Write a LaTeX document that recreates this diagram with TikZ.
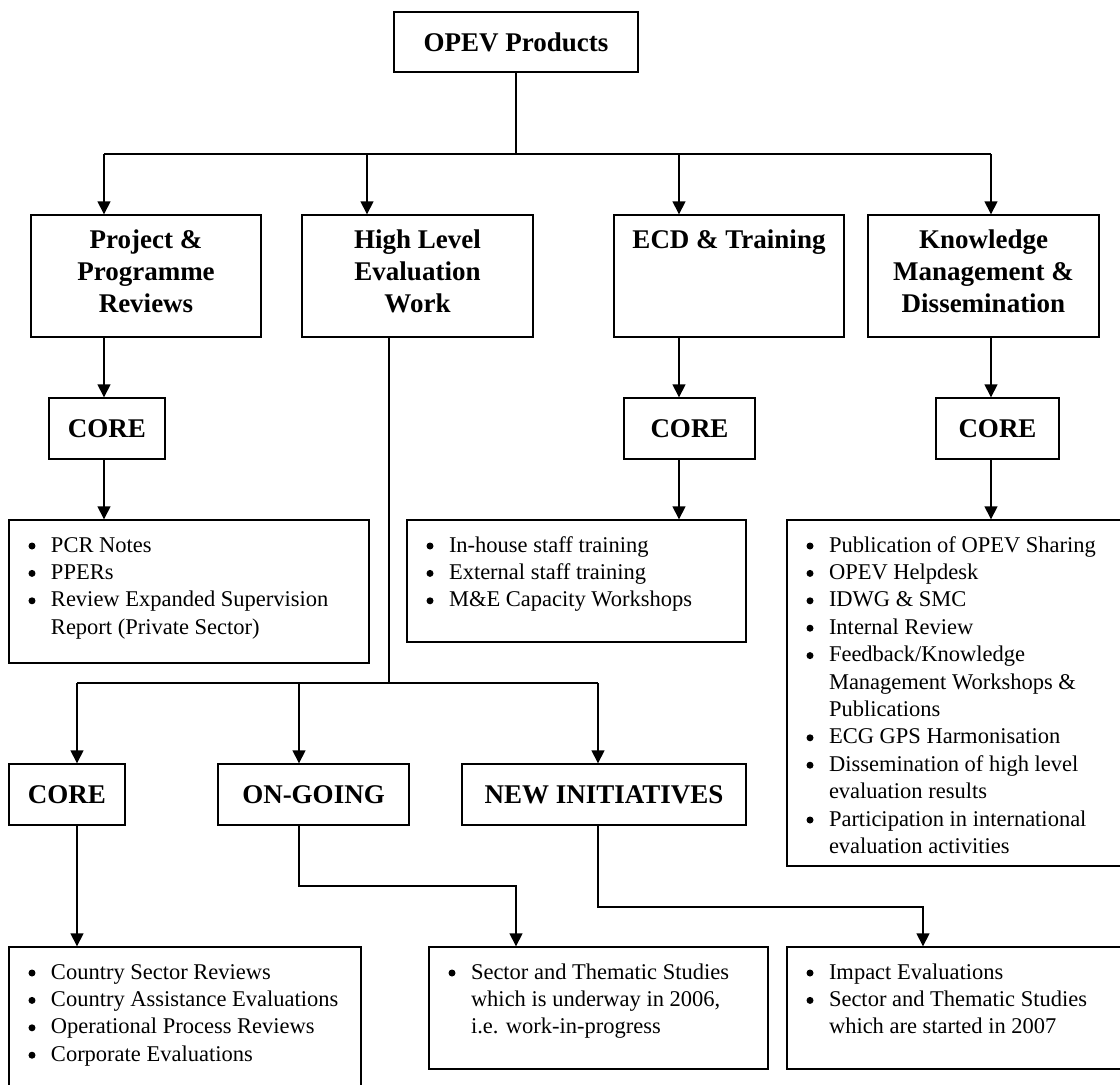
\documentclass[tikz,border=0pt]{standalone}
\usepackage{fontspec}
\setmainfont{Liberation Serif}
\usetikzlibrary{arrows.meta}
\newcommand\ttlfont{\fontsize{27}{32}\selectfont\bfseries}
\newcommand\lstfont{\fontsize{22.5}{27.4}\selectfont}
\newcommand\ttlbox[3]{\parbox[c][#2][t]{#1}{\centering\ttlfont\rule{0pt}{33pt}#3}}
\newcommand\lstbox[3]{\parbox[c][#2][t]{#1}{\lstfont\raggedright\parskip=0pt\parindent=0pt #3}}
\newcommand\bul{\tikz[baseline=0pt]\fill (0pt,6pt) circle (3.5pt);}
\newcommand\itm[1]{\par\noindent\hangindent=42pt\hangafter=1\hspace*{19.5pt}\makebox[22.5pt][l]{\bul}#1\par}
\newcommand\fst{\rule{0pt}{32pt}}
\tikzset{
  box/.style={draw, line width=1.4pt, inner sep=0pt, rectangle},
  sbox/.style={box, font=\ttlfont},
  ln/.style={line width=1.5pt},
  arr/.style={line width=1.5pt, -{Triangle[length=13pt,width=13pt]}}
}
\begin{document}
\begin{tikzpicture}[x=1pt,y=-1pt]
\useasboundingbox (0,0) rectangle (1120,1085);
\path[fill=white] (0,0) rectangle (1120,1085);

% top
\node[sbox, minimum width=244pt, minimum height=60pt] (opev) at (516,42) {OPEV Products};

% level 1
\node[box] (prj) at (146,276) {\ttlbox{230pt}{122pt}{Project \&\\Programme\\Reviews}};
\node[box] (hle) at (417.5,276) {\ttlbox{231pt}{122pt}{High Level\\Evaluation\\Work}};
\node[box] (ecd) at (729,276) {\ttlbox{230pt}{122pt}{ECD \& Training}};
\node[box] (km) at (983.5,276) {\ttlbox{231pt}{122pt}{Knowledge\\Management \&\\Dissemination}};

% CORE boxes level 2
\node[sbox, minimum width=116pt, minimum height=61pt] (core1) at (107,428.5) {CORE};
\node[sbox, minimum width=131pt, minimum height=61pt] (core2) at (689.5,428.5) {CORE};
\node[sbox, minimum width=123pt, minimum height=61pt] (core3) at (997.5,428.5) {CORE};

% lists level 2
\node[box] (list1) at (189,591.5) {\lstbox{360pt}{143pt}{%
  \itm{\fst PCR Notes}\itm{PPERs}\itm{Review Expanded Supervision\newline Report (Private Sector)}}};
\node[box] (list2) at (576.5,581) {\lstbox{339pt}{122pt}{%
  \itm{\fst In-house staff training}\itm{External staff training}\itm{M\&E Capacity Workshops}}};
\node[box] (list3) at (963.5,693) {\lstbox{353pt}{346pt}{%
  \itm{\fst Publication of OPEV Sharing}\itm{OPEV Helpdesk}\itm{IDWG \& SMC}\itm{Internal Review}%
  \itm{Feedback/Knowledge\newline Management Workshops \&\newline Publications}%
  \itm{ECG GPS Harmonisation}\itm{Dissemination of high level\newline evaluation results}%
  \itm{Participation in international\newline evaluation activities}}};

% level 3
\node[sbox, minimum width=116pt, minimum height=61pt] (core4) at (67,794.5) {CORE};
\node[sbox, minimum width=191pt, minimum height=61pt] (ongo) at (313.5,794.5) {ON-GOING};
\node[sbox, minimum width=284pt, minimum height=61pt] (newi) at (604,794.5) {NEW INITIATIVES};

% lists level 3
\node[box] (list4) at (185,1028.5) {\lstbox{352pt}{163pt}{%
  \itm{\fst Country Sector Reviews}\itm{Country Assistance Evaluations}\itm{Operational Process Reviews}\itm{Corporate Evaluations}}};
\node[box] (list5) at (598.5,1008) {\lstbox{339pt}{122pt}{%
  \itm{\fst Sector and Thematic Studies\newline which is underway in 2006,\newline i.e. work-in-progress}}};
\node[box] (list6) at (963.5,1008) {\lstbox{353pt}{122pt}{%
  \itm{\fst Impact Evaluations}\itm{Sector and Thematic Studies\newline which are started in 2007}}};

% connector coordinates
\coordinate (h1) at (104,154);
\coordinate (h2) at (367,154);
\coordinate (h3) at (679,154);
\coordinate (h4) at (991,154);
\coordinate (v) at (389,683);
\coordinate (g1) at (77,683);
\coordinate (g2) at (299,683);
\coordinate (g3) at (598,683);
\coordinate (k1) at (516,886);
\coordinate (k2) at (923,907);

% top tree
\draw[ln] (opev.south) -- (opev.south |- h1);
\draw[ln] (h1) -- (h4);
\draw[arr] (h1) -- (h1 |- prj.north);
\draw[arr] (h2) -- (h2 |- hle.north);
\draw[arr] (h3) -- (h3 |- ecd.north);
\draw[arr] (h4) -- (h4 |- km.north);

\draw[arr] (prj.south -| h1) -- (core1.north -| h1);
\draw[arr] (core1.south -| h1) -- (list1.north -| h1);
\draw[arr] (ecd.south -| h3) -- (core2.north -| h3);
\draw[arr] (core2.south -| h3) -- (list2.north -| h3);
\draw[arr] (km.south -| h4) -- (core3.north -| h4);
\draw[arr] (core3.south -| h4) -- (list3.north -| h4);

% HLE tree
\draw[ln] (hle.south -| v) -- (v);
\draw[ln] (g1) -- (g3);
\draw[arr] (g1) -- (g1 |- core4.north);
\draw[arr] (g2) -- (g2 |- ongo.north);
\draw[arr] (g3) -- (g3 |- newi.north);

\draw[arr] (core4.south -| g1) -- (list4.north -| g1);
\draw[arr] (ongo.south -| g2) |- (k1) -- (list5.north -| k1);
\draw[arr] (newi.south -| g3) |- (k2) -- (list6.north -| k2);
\end{tikzpicture}
\end{document}
